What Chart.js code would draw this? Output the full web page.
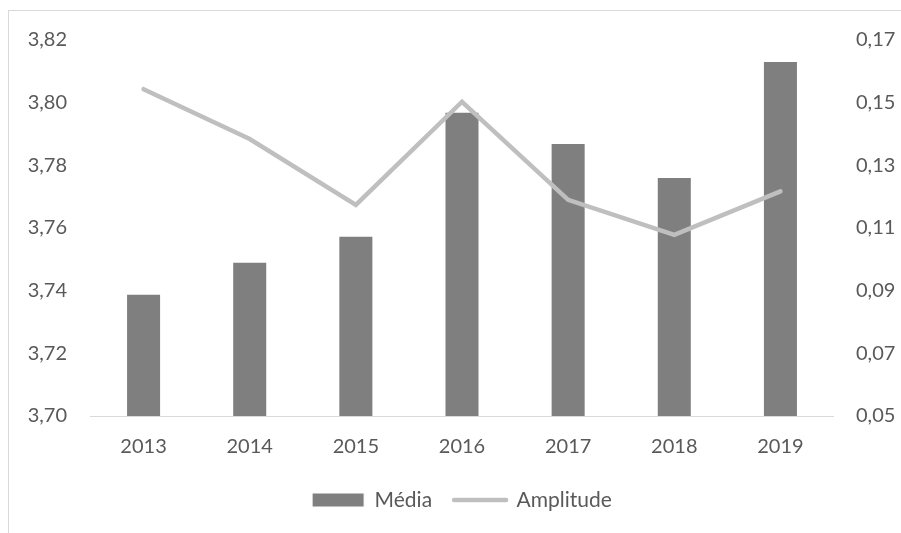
<!DOCTYPE html>
<html lang="pt">
<head>
<meta charset="utf-8">
<title>Média e amplitude 2013-2019</title>
<script src="https://cdn.jsdelivr.net/npm/chart.js"></script>
<style>
  html, body { margin: 0; padding: 0; background: #fff; overflow: hidden; }
  #moldura { position: absolute; left: 8px; top: 10px; width: 1000px; height: 1000px; border: 1px solid #d9d9d9; }
  #grafico { position: absolute; left: 0; top: 0; }
</style>
</head>
<body>
<div id="moldura"></div>
<canvas id="grafico" width="901" height="533"></canvas>
<script>
const anos = ['2013', '2014', '2015', '2016', '2017', '2018', '2019'];
const media = [3.739, 3.7492, 3.7575, 3.7971, 3.7871, 3.7763, 3.8133];
const amplitude = [0.1543, 0.1384, 0.1174, 0.1503, 0.1190, 0.1078, 0.1217];
const ticksMedia = [3.70, 3.72, 3.74, 3.76, 3.78, 3.80, 3.82];
const ticksAmplitude = [0.05, 0.07, 0.09, 0.11, 0.13, 0.15, 0.17];

const corTexto = '#595959';
const corBarra = '#7f7f7f';
const corLinha = '#bfbfbf';

// números com vírgula decimal
const virgula = v => Number(v).toFixed(2).replace('.', ',');

Chart.defaults.font.family = 'Lato, "Open Sans", sans-serif';
Chart.defaults.font.size = 20;
Chart.defaults.color = corTexto;

const fixarTicks = lista => scale => {
  scale.ticks = lista.map(v => ({ value: v }));
};

new Chart(document.getElementById('grafico'), {
  data: {
    labels: anos,
    datasets: [
      {
        type: 'bar',
        label: 'Média',
        data: media,
        yAxisID: 'y',
        backgroundColor: corBarra,
        borderColor: '#ffffff',
        borderWidth: 1,
        barPercentage: 0.33,
        categoryPercentage: 1,
        order: 2
      },
      {
        type: 'line',
        label: 'Amplitude',
        data: amplitude,
        yAxisID: 'y1',
        borderColor: corLinha,
        backgroundColor: corLinha,
        borderWidth: 4.5,
        borderCapStyle: 'round',
        borderJoinStyle: 'miter',
        pointRadius: 0,
        tension: 0,
        order: 1
      }
    ]
  },
  options: {
    responsive: false,
    animation: false,
    layout: { padding: { top: 40, bottom: 12.5, left: 0, right: 0 } },
    scales: {
      x: {
        grid: { display: false, drawTicks: false },
        border: { display: true, color: '#d9d9d9', width: 1 },
        ticks: { padding: 18.5, color: corTexto },
        afterFit: s => { s.height = 51.5; }
      },
      y: {
        position: 'left',
        min: ticksMedia[0],
        max: ticksMedia[ticksMedia.length - 1],
        grid: { display: false, drawTicks: false },
        border: { display: false },
        ticks: { padding: 23.5, color: corTexto, callback: v => virgula(v) },
        afterBuildTicks: fixarTicks(ticksMedia),
        afterFit: s => { s.width = 90.5; }
      },
      y1: {
        position: 'right',
        min: ticksAmplitude[0],
        max: ticksAmplitude[ticksAmplitude.length - 1],
        grid: { display: false, drawTicks: false },
        border: { display: false },
        ticks: { padding: 22.5, color: corTexto, callback: v => virgula(v) },
        afterBuildTicks: fixarTicks(ticksAmplitude),
        afterFit: s => { s.width = 67.5; }
      }
    },
    plugins: {
      tooltip: { enabled: false },
      legend: {
        position: 'bottom',
        fullSize: false,
        labels: {
          usePointStyle: true,
          pointStyleWidth: 52,
          boxHeight: 14,
          padding: 22,
          color: corTexto,
          font: { size: 21 },
          sort: (a, b) => a.datasetIndex - b.datasetIndex,
          generateLabels: chart =>
            Chart.defaults.plugins.legend.labels.generateLabels(chart).map(item =>
              item.datasetIndex === 1
                ? { ...item, pointStyle: 'line', lineCap: 'round', lineWidth: 4.5, strokeStyle: corLinha }
                : { ...item, pointStyle: 'rect', fillStyle: corBarra, strokeStyle: '#ffffff', lineWidth: 1 })
        }
      }
    }
  }
});
</script>
</body>
</html>
